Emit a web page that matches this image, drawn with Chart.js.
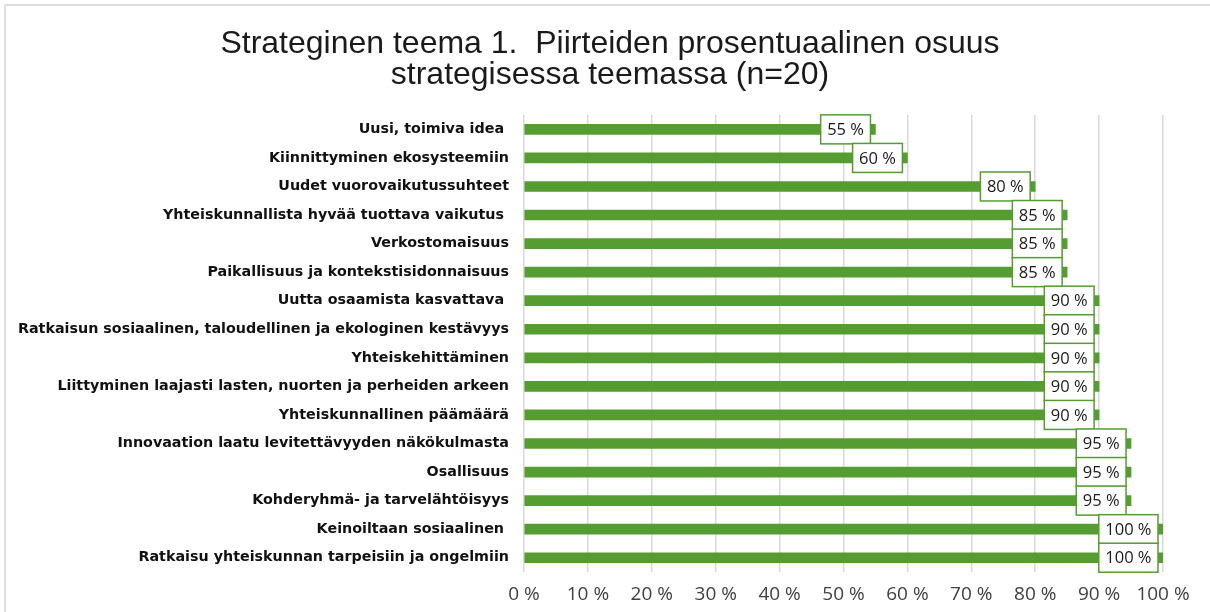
<!DOCTYPE html>
<html>
<head>
<meta charset="utf-8">
<script src="https://cdn.jsdelivr.net/npm/chart.js@4.4.1/dist/chart.umd.min.js"></script>
<style>
    body { margin: 0; background: #ffffff; }
    #frame {
        position: absolute; left: 4px; top: 4px; width: 1206px; height: 608px;
        border-top: 2px solid #dedede; border-left: 2px solid #dedede;
        box-sizing: border-box;
    }
    #chart { position: absolute; left: 0; top: 0; }
</style>
</head>
<body>
<div id="frame"></div>
<canvas id="chart" width="1210" height="612"></canvas>
<script>
// ===== DATA =====
const categories = [
    'Uusi, toimiva idea ',
    'Kiinnittyminen ekosysteemiin',
    'Uudet vuorovaikutussuhteet',
    'Yhteiskunnallista hyvää tuottava vaikutus ',
    'Verkostomaisuus',
    'Paikallisuus ja kontekstisidonnaisuus',
    'Uutta osaamista kasvattava ',
    'Ratkaisun sosiaalinen, taloudellinen ja ekologinen kestävyys',
    'Yhteiskehittäminen',
    'Liittyminen laajasti lasten, nuorten ja perheiden arkeen',
    'Yhteiskunnallinen päämäärä',
    'Innovaation laatu levitettävyyden näkökulmasta',
    'Osallisuus',
    'Kohderyhmä- ja tarvelähtöisyys',
    'Keinoiltaan sosiaalinen ',
    'Ratkaisu yhteiskunnan tarpeisiin ja ongelmiin'
];
const shares = [55, 60, 80, 85, 85, 85, 90, 90, 90, 90, 90, 95, 95, 95, 100, 100];
const xTicks = [0, 10, 20, 30, 40, 50, 60, 70, 80, 90, 100];

const titleLines = [
    'Strateginen teema 1.  Piirteiden prosentuaalinen osuus',
    'strategisessa teemassa (n=20)'
];

const GREEN = '#559d30';

// ===== VALUE LABEL BOXES =====
const valueBoxes = {
    id: 'valueBoxes',
    afterDatasetsDraw(chart) {
        const ctx = chart.ctx;
        const meta = chart.getDatasetMeta(0);
        ctx.save();
        ctx.font = '16.5px "Open Sans", Arial, sans-serif';
        ctx.textAlign = 'center';
        ctx.textBaseline = 'middle';
        meta.data.forEach((bar, i) => {
            const text = shares[i] + ' %';
            const w = ctx.measureText(text).width + 13;
            const h = 29;
            const right = bar.x - 5;
            const left = right - w;
            const top = bar.y - h / 2;
            ctx.fillStyle = '#ffffff';
            ctx.fillRect(left, top, w, h);
            ctx.strokeStyle = GREEN;
            ctx.lineWidth = 1.5;
            ctx.strokeRect(left, top, w, h);
            ctx.fillStyle = '#1a1a1a';
            ctx.fillText(text, left + w / 2, bar.y + 1);
        });
        ctx.restore();
    }
};

// ===== CHART =====
new Chart(document.getElementById('chart'), {
    type: 'bar',
    data: {
        labels: categories,
        datasets: [{
            data: shares,
            backgroundColor: GREEN,
            barThickness: 10
        }]
    },
    options: {
        indexAxis: 'y',
        responsive: false,
        animation: false,
        layout: { padding: { left: 10, right: 0, top: 0, bottom: 0 } },
        plugins: {
            legend: { display: false },
            tooltip: { enabled: false },
            title: {
                display: true,
                text: titleLines,
                color: '#1a1a1a',
                font: { family: '"Liberation Sans", Arial, sans-serif', size: 32, weight: 'normal', lineHeight: 0.97 },
                padding: { top: 29, bottom: 24 }
            }
        },
        scales: {
            x: {
                min: 0,
                max: 100,
                afterBuildTicks: s => { s.ticks = xTicks.map(v => ({ value: v })); },
                afterFit: s => { s.height = 40; },
                grid: { color: '#d9d9d9', lineWidth: 1.5, drawTicks: false },
                border: { display: false },
                ticks: {
                    color: '#404040',
                    padding: 11,
                    font: { family: '"Open Sans", Arial, sans-serif', size: 19 },
                    callback: v => v + ' %'
                }
            },
            y: {
                afterFit: s => { s.width = 514; },
                grid: { display: false, drawTicks: false },
                border: { display: false },
                ticks: {
                    color: '#111111',
                    padding: 15,
                    font: { family: '"DejaVu Sans", Verdana, sans-serif', size: 14.3, weight: 'bold' }
                }
            },
            // empty axis on the right only reserves the margin after 100 %
            right: {
                position: 'right',
                afterFit: s => { s.width = 47; },
                grid: { display: false, drawTicks: false },
                border: { display: false },
                ticks: { display: false }
            }
        }
    },
    plugins: [valueBoxes]
});
</script>
</body>
</html>
